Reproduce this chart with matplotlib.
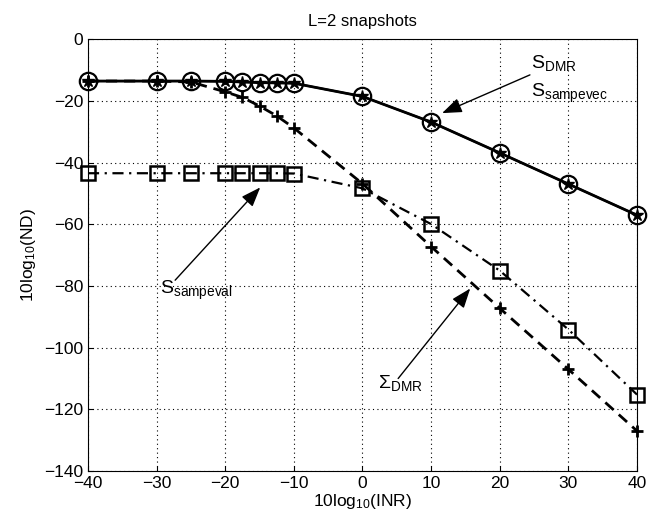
import numpy as np
from matplotlib import pyplot as plt

plt.rcParams['font.family'] = ['Liberation Sans', 'DejaVu Sans']
plt.rcParams['mathtext.fontset'] = 'custom'
plt.rcParams['mathtext.rm'] = 'Liberation Sans'
plt.rcParams['mathtext.it'] = 'Liberation Sans'

inr = [-40, -30, -25, -20, -17.5, -15, -12.5, -10, 0, 10, 20, 30, 40]
s_dmr = [-13.5, -13.5, -13.5, -13.6, -13.8, -14.0, -14.1, -14.2, -18.5, -26.8, -36.8, -46.9, -57.0]
sigma_dmr = [-13.5, -13.5, -13.8, -17.0, -18.8, -21.6, -24.8, -28.7, -46.8, -67.2, -87.2, -107.0, -127.0]
s_sampeval = [-43.4, -43.4, -43.4, -43.4, -43.4, -43.4, -43.4, -43.5, -48.3, -59.9, -75.0, -94.1, -115.2]

fig = plt.figure(figsize=(6.64, 5.19), dpi=100)
ax = fig.add_axes([0.1325, 0.0925, 0.8268, 0.8315])

ax.plot(inr, sigma_dmr, 'k', ls=(0, (4, 2.5)), lw=2, marker='+', ms=8, mew=2, clip_on=False)
ax.plot(inr, s_sampeval, 'k', ls=(0, (5, 2.5, 1, 2.5)), lw=1.6, marker='s', ms=9.5,
        mfc='none', mew=1.8, clip_on=False)
ax.plot(inr, s_dmr, 'k-', lw=2, marker='o', ms=12.5, mfc='none', mew=1.6, clip_on=False)
ax.plot(inr, s_dmr, 'none', marker='*', ms=9, color='k', clip_on=False)

ax.set_xlim(-40, 40)
ax.set_ylim(-140, 0)
ax.set_xticks(np.arange(-40, 41, 10))
ax.set_yticks(np.arange(-140, 1, 20))
ax.grid(True, ls=(0, (1, 3)), color='k', lw=0.8)
ax.tick_params(direction='in', labelsize=12.5)
ax.set_xlabel(r'10log$_{10}$(INR)', fontsize=12.5, labelpad=1)
ax.set_ylabel(r'10log$_{10}$(ND)', fontsize=12.5)
ax.set_title('L=2 snapshots', fontsize=12, pad=10)

arrow = dict(arrowstyle='-|>,head_length=1.2,head_width=0.45', color='k', lw=1, shrinkA=0, shrinkB=0)
ax.text(24.6, -7.5, r'S$_{\rm DMR}$', fontsize=14, va='center')
ax.text(24.6, -17.5, r'S$_{\rm sampevec}$', fontsize=14, va='center')
ax.annotate('', xy=(11.6, -23.9), xytext=(24.4, -11.5), arrowprops=arrow)
ax.annotate('', xy=(-14.9, -48.0), xytext=(-27.3, -78.1), arrowprops=arrow)
ax.text(-29.5, -81.5, r'S$_{\rm sampeval}$', fontsize=14, va='center')
ax.annotate('', xy=(15.7, -80.8), xytext=(5.2, -110.0), arrowprops=arrow)
ax.text(2.3, -111.5, r'$\Sigma_{\rm DMR}$', fontsize=14, va='center')

fig.savefig('out.png', dpi=100)
